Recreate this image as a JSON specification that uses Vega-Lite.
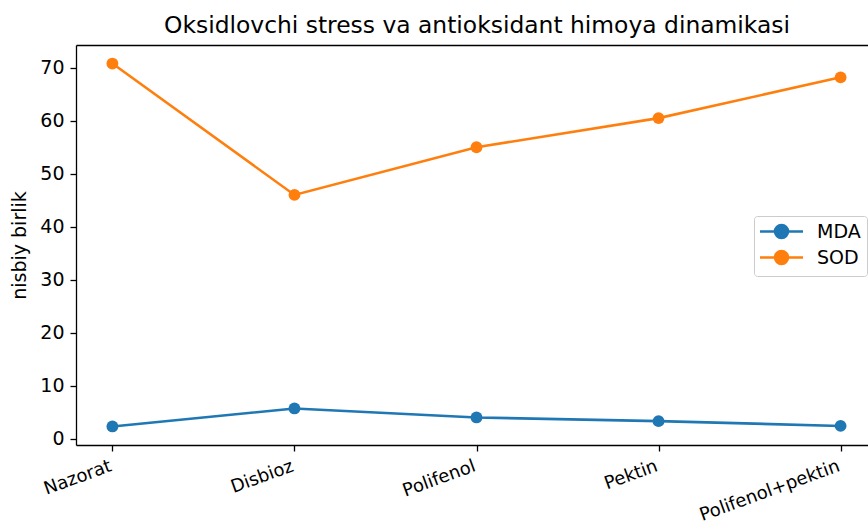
{
  "$schema": "https://vega.github.io/schema/vega-lite/v6.json",
  "autosize": {"type": "none"},
  "padding": {"left": 76, "top": 45, "right": 0, "bottom": 81},
  "width": 792,
  "height": 400,
  "background": "white",
  "title": {
    "text": "Oksidlovchi stress va antioksidant himoya dinamikasi",
    "fontSize": 23.4,
    "fontWeight": "normal",
    "font": "DejaVu Sans",
    "color": "black",
    "offset": 7,
    "dx": 5
  },
  "data": {
    "values": [
      {"group": "Nazorat", "series": "MDA", "value": 2.3},
      {"group": "Disbioz", "series": "MDA", "value": 5.7},
      {"group": "Polifenol", "series": "MDA", "value": 4.0},
      {"group": "Pektin", "series": "MDA", "value": 3.3},
      {"group": "Polifenol+pektin", "series": "MDA", "value": 2.4},
      {"group": "Nazorat", "series": "SOD", "value": 70.8},
      {"group": "Disbioz", "series": "SOD", "value": 46.0},
      {"group": "Polifenol", "series": "SOD", "value": 55.0},
      {"group": "Pektin", "series": "SOD", "value": 60.5},
      {"group": "Polifenol+pektin", "series": "SOD", "value": 68.2}
    ]
  },
  "encoding": {
    "x": {
      "field": "group",
      "type": "ordinal",
      "sort": null,
      "scale": {"type": "point", "range": [0, 801], "padding": 0.2}
    },
    "y": {
      "field": "value",
      "type": "quantitative",
      "scale": {"domain": [-1.2, 74.3], "nice": false, "zero": false},
      "axis": {
        "title": "nisbiy birlik",
        "values": [0, 10, 20, 30, 40, 50, 60, 70],
        "grid": false,
        "labelPadding": 6,
        "titlePadding": 10
      }
    },
    "color": {
      "field": "series",
      "type": "nominal",
      "scale": {"domain": ["MDA", "SOD"], "range": ["#1f77b4", "#ff7f0e"]},
      "legend": {
        "title": null,
        "orient": "none",
        "legendX": 678,
        "legendY": 171,
        "fillColor": "white",
        "strokeColor": "#cccccc",
        "cornerRadius": 3,
        "padding": 6,
        "symbolType": "M-3.3,0L3.3,0M-1,0A1,1,0,1,0,1,0A1,1,0,1,0,-1,0Z",
        "symbolSize": 170,
        "symbolStrokeWidth": 2.5,
        "symbolOffset": 12,
        "labelFontSize": 19,
        "labelFont": "DejaVu Sans",
        "labelColor": "black",
        "labelOffset": 26,
        "rowPadding": 1,
        "encode": {
          "symbols": {
            "update": {
              "fill": {"scale": "color", "field": "value"},
              "stroke": {"scale": "color", "field": "value"},
              "opacity": {"value": 1}
            }
          }
        }
      }
    }
  },
  "layer": [
    {
      "mark": {"type": "line", "strokeWidth": 2.6},
      "encoding": {
        "x": {
          "field": "group",
          "type": "ordinal",
          "sort": null,
          "scale": {"type": "point", "range": [0, 801], "padding": 0.2},
          "axis": {
            "title": null,
            "orient": "bottom",
            "labelAngle": -20,
            "labelAlign": "right",
            "labelBaseline": "top",
            "labelFontSize": 18,
            "labelPadding": 6,
            "labelOffset": -5
          }
        }
      }
    },
    {
      "mark": {"type": "point", "filled": true, "opacity": 1, "size": 140, "shape": "circle"},
      "encoding": {
        "x": {
          "field": "group",
          "type": "ordinal",
          "sort": null,
          "scale": {"type": "point", "range": [0, 801], "padding": 0.2},
          "axis": {
            "title": null,
            "orient": "top",
            "labels": false,
            "ticks": false,
            "domain": true
          }
        }
      }
    }
  ],
  "resolve": {"axis": {"x": "independent"}},
  "config": {
    "font": "DejaVu Sans",
    "view": {"stroke": null},
    "axis": {
      "domainColor": "black",
      "domainWidth": 1.3,
      "tickColor": "black",
      "tickWidth": 1.3,
      "tickSize": 6,
      "labelColor": "black",
      "labelFont": "DejaVu Sans",
      "labelFontSize": 19,
      "labelPadding": 5,
      "titleFont": "DejaVu Sans",
      "titleFontSize": 19,
      "titleFontWeight": "normal",
      "titleColor": "black",
      "grid": false
    }
  }
}
